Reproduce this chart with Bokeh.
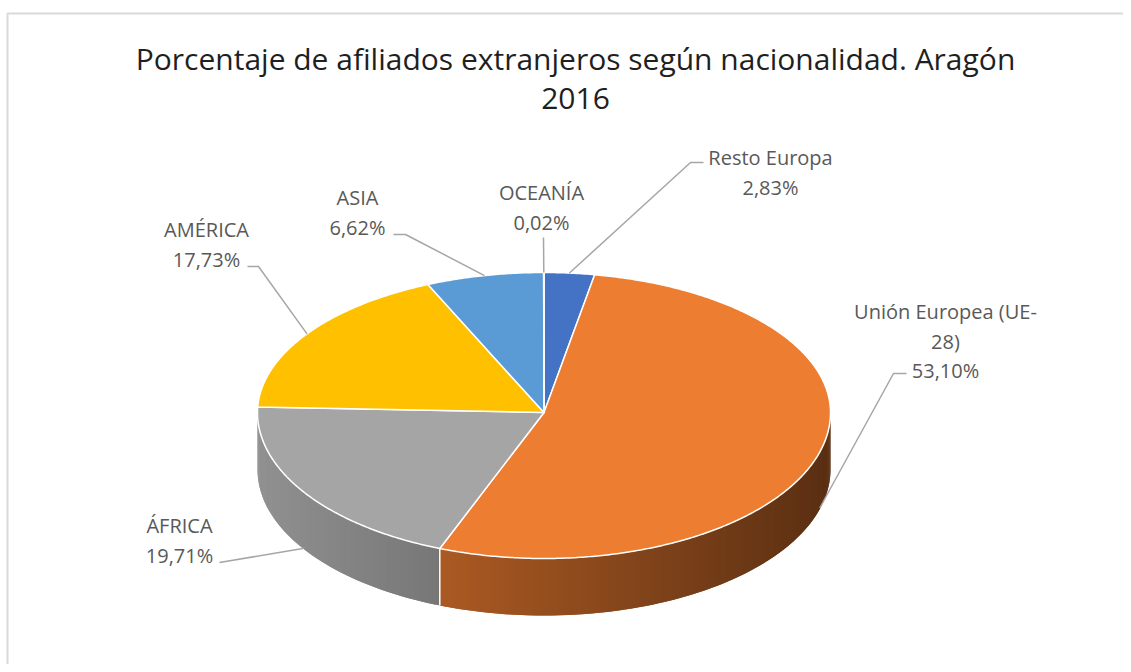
import numpy as np
from bokeh.plotting import figure
from bokeh.models import Range1d, ColumnDataSource
from bokeh.core.properties import value
from bokeh.embed import file_html
from bokeh.resources import INLINE

# ---------------- data ----------------
categories = ["Resto Europa", "Unión Europea (UE-28)", "ÁFRICA", "AMÉRICA", "ASIA", "OCEANÍA"]
percentages = [2.83, 53.10, 19.71, 17.73, 6.62, 0.02]
colors = ["#4472C4", "#ED7D31", "#A5A5A5", "#FFC000", "#5B9BD5", "#70AD47"]
label_names = [["Resto Europa"], ["Unión Europea (UE-", "28)"], ["ÁFRICA"], ["AMÉRICA"], ["ASIA"], ["OCEANÍA"]]
title_lines = ["Porcentaje de afiliados extranjeros según nacionalidad. Aragón", "2016"]

# ---------------- layout ----------------
W, H = 1123, 664
X0, Y0 = 0, 0
CX, CY = 543.5, 412.0
RX, RY_TOP, RY_BOT = 286.5, 140.0, 146.0
DEPTH = 57.0
LABEL_FONT = "Open Sans"
label_pos = [(770, 157), (945, 311), (179, 525), (206, 229), (357, 197), (541, 192)]
LINE_GAP = 29.5
leader_start = [[(703, 162), (690, 162)], [(906, 373), (893, 373)], [(219, 562)],
                [(247, 266), (258, 266)], [(393, 234), (405, 234)], [(543, 237)]]


def ell(t):
    t = np.asarray(t, dtype=float)
    s = np.sin(t)
    ry = np.where(s >= 0, RY_TOP, RY_BOT)
    return CX + RX * np.cos(t), CY - ry * s


def shade(hexcol, f):
    h = hexcol.lstrip("#")
    r, g, b = (int(h[i:i + 2], 16) for i in (0, 2, 4))
    return "#%02x%02x%02x" % (int(r * f), int(g * f), int(b * f))


total = sum(percentages)
fr = np.array(percentages) / total
cum = np.concatenate([[0], np.cumsum(fr)])
t_start = np.radians(90 - 360 * cum[:-1])
t_end = np.radians(90 - 360 * cum[1:])

p = figure(width=W, height=H, x_range=Range1d(X0, X0 + W), y_range=Range1d(Y0 + H, Y0),
           output_backend="svg", toolbar_location=None, min_border=0,
           x_axis_location=None, y_axis_location=None)
p.grid.visible = False
p.outline_line_color = None
p.background_fill_color = "white"
p.border_fill_color = "white"

# chart frame
p.line([7, 7, X0 + W], [Y0 + H, 13, 13], line_color="#D9D9D9", line_width=2)

# ---------- side walls (front half, t in (-pi, 0)) ----------
sx, sy, sc = [], [], []
for i in range(len(categories)):
    a = max(t_end[i], -np.pi)
    b = min(t_start[i], 0.0)
    if a >= b:
        continue
    n = max(2, int(np.degrees(b - a) / 0.8))
    ts = np.linspace(b, a, n + 1)
    for k in range(n):
        xa, ya = ell(ts[k])
        xb, yb = ell(ts[min(k + 2, n)])
        xm = (xa + xb) / 2
        f = 0.88 - 0.5 * (xm - (CX - RX)) / (2 * RX)
        c = shade(colors[i], f)
        sx.append([xa, xb, xb, xa])
        sy.append([ya, yb, yb + DEPTH, ya + DEPTH])
        sc.append(c)
p.patches(xs="xs", ys="ys", fill_color="c", line_color=None,
          source=ColumnDataSource(dict(xs=sx, ys=sy, c=sc)))

# white seams on side at slice boundaries in the front half
for t in t_end[:-1]:
    tt = (t + np.pi) % (2 * np.pi) - np.pi
    if -np.pi < tt < 0:
        x, y = ell(tt)
        p.line([x, x], [y, y + DEPTH], line_color="white", line_width=1.5)

# ---------- top faces ----------
tx, ty = [], []
for i in range(len(categories)):
    n = max(2, int(np.degrees(t_start[i] - t_end[i]) / 0.5))
    ts = np.linspace(t_start[i], t_end[i], n + 1)
    ex, ey = ell(ts)
    tx.append([CX] + list(ex))
    ty.append([CY] + list(ey))
p.patches(xs="xs", ys="ys", fill_color="c", line_color="white", line_width=1.5,
          line_join="round", source=ColumnDataSource(dict(xs=tx, ys=ty, c=colors)))

# ---------- leader lines ----------
lx, ly = [], []
for i in range(len(categories)):
    tm = (t_start[i] + t_end[i]) / 2
    ax_, ay_ = ell(tm)
    ay_ = float(ay_)
    if np.sin(tm) < 0:
        ay_ += DEPTH * 0.98
    pts = leader_start[i] + [(float(ax_), ay_)]
    lx.append([q[0] for q in pts])
    ly.append([q[1] for q in pts])
p.multi_line(xs=lx, ys=ly, line_color="#A6A6A6", line_width=1.5)

# ---------- labels ----------
tx_, ty_, tt_ = [], [], []
for i in range(len(categories)):
    lines = label_names[i] + [("%.2f%%" % percentages[i]).replace(".", ",")]
    x0, y0 = label_pos[i]
    for j, s in enumerate(lines):
        tx_.append(x0)
        ty_.append(y0 + j * LINE_GAP)
        tt_.append(s)
p.text(x=tx_, y=ty_, text=tt_, text_align="center", text_baseline="middle",
       text_font=value(LABEL_FONT), text_font_size="20px", text_color="#595959")

# ---------- title ----------
p.text(x=[575, 575], y=[58, 98], text=title_lines, text_align="center", text_baseline="middle",
       text_font=value(LABEL_FONT), text_font_size="30px", text_color="#1F1F1F")

open("out.html", "w").write(file_html(p, INLINE))
